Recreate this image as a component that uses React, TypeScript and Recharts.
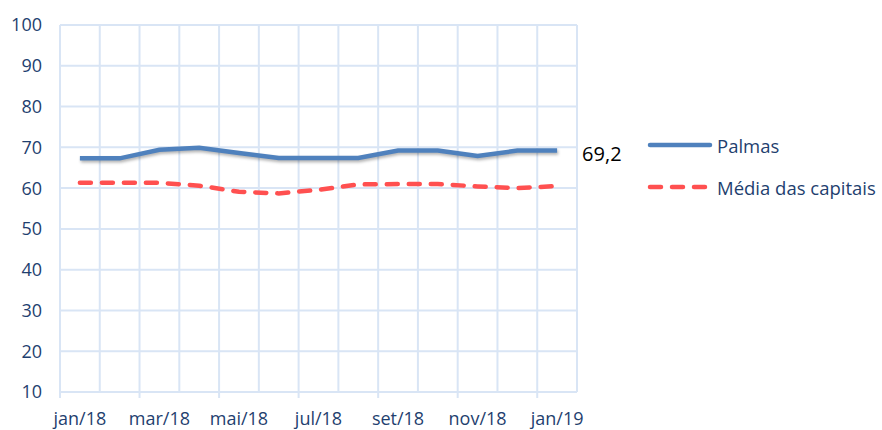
import React from 'react';
import { LineChart, Line, XAxis, YAxis, CartesianGrid, Legend } from 'recharts';

const months = ['jan/18', 'fev/18', 'mar/18', 'abr/18', 'mai/18', 'jun/18', 'jul/18', 'ago/18', 'set/18', 'out/18', 'nov/18', 'dez/18', 'jan/19'];
const palmas = [67.3, 67.3, 69.4, 69.9, 68.6, 67.4, 67.4, 67.4, 69.2, 69.2, 67.9, 69.2, 69.2];
const media = [61.3, 61.3, 61.3, 60.6, 59.1, 58.7, 59.6, 60.9, 61.0, 61.0, 60.4, 60.0, 60.5];
const yTicks = [10, 20, 30, 40, 50, 60, 70, 80, 90, 100];

const data = months.map((m, i) => ({ idx: i, month: m, palmas: palmas[i], media: media[i] }));

const gridTicks = months.map((_, i) => i - 0.5).concat(months.length - 0.5);
const axisTicks: number[] = [];
months.forEach((_, i) => {
  if (i % 2 === 0) {
    axisTicks.push(i - 0.5);
    axisTicks.push(i);
  }
});

const TEXT = '#1F3F6F';
const GRID = '#D9E5F5';
const FONT = '"Open Sans", sans-serif';

const series = [
  { key: 'palmas', name: 'Palmas', color: '#4F81BD', dash: undefined as string | undefined },
  { key: 'media', name: 'Média das capitais', color: '#FF5050', dash: '11 11' },
];

const XTick = (props: any) => {
  const { x, y, payload } = props;
  const v = payload.value;
  if (Number.isInteger(v)) {
    return (
      <text x={x} y={y + 33} textAnchor="middle" fill={TEXT} fontSize={18} fontFamily={FONT}>
        {months[v]}
      </text>
    );
  }
  return <line x1={x} y1={y} x2={x} y2={y + 6} stroke={GRID} strokeWidth={2} />;
};

const EndLabel = (props: any) => {
  const { x, y, index, value } = props;
  if (index !== months.length - 1) return null;
  return (
    <text x={x + 25} y={y + 3} dominantBaseline="central" fill="#000" fontSize={20} fontFamily={FONT}>
      {Number(value).toFixed(1).replace('.', ',')}
    </text>
  );
};

const LegendContent = () => (
  <div>
    {series.map((s) => (
      <div key={s.key} style={{ display: 'flex', alignItems: 'center', height: 42 }}>
        <svg width={68} height={10} style={{ display: 'block' }}>
          <line x1={4} y1={5} x2={64} y2={5} stroke={s.color} strokeWidth={4.5} strokeDasharray={s.dash} strokeLinecap="round" />
        </svg>
        <span style={{ marginLeft: 3, fontSize: 18.5, color: TEXT, fontFamily: FONT, whiteSpace: 'nowrap' }}>{s.name}</span>
      </div>
    ))}
  </div>
);

export default function App() {
  return (
    <div style={{ position: 'absolute', left: 0, top: 0, background: '#fff' }}>
      <LineChart width={882} height={430} data={data} margin={{ top: 25, right: 305, bottom: 0, left: 0 }}>
        <CartesianGrid xAxisId="grid" stroke={GRID} strokeWidth={2} horizontal vertical />
        <XAxis
          xAxisId="grid"
          dataKey="idx"
          type="number"
          domain={[-0.5, months.length - 0.5]}
          ticks={gridTicks}
          hide
        />
        <XAxis
          dataKey="idx"
          type="number"
          domain={[-0.5, months.length - 0.5]}
          ticks={axisTicks}
          interval={0}
          height={38}
          tickSize={0}
          tickMargin={0}
          tickLine={false}
          axisLine={{ stroke: GRID, strokeWidth: 2 }}
          tick={<XTick />}
        />
        <YAxis
          domain={[10, 100]}
          ticks={yTicks}
          width={60}
          axisLine={false}
          tickLine={false}
          tickSize={0}
          tickMargin={18}
          tick={{ fill: TEXT, fontSize: 18, fontFamily: FONT }}
        />
        <Legend
          layout="vertical"
          align="center"
          verticalAlign="middle"
          wrapperStyle={{ left: 646, top: 124, width: 236 }}
          content={<LegendContent />}
        />
        <Line
          dataKey="palmas"
          name="Palmas"
          stroke="#4F81BD"
          strokeWidth={4.5}
          dot={false}
          activeDot={false}
          type="linear"
          isAnimationActive={false}
          label={<EndLabel />}
          style={{ filter: 'drop-shadow(1px 2px 1.5px rgba(0,0,0,0.3))' }}
        />
        <Line
          dataKey="media"
          name="Média das capitais"
          stroke="#FF5050"
          strokeWidth={4.5}
          strokeDasharray="11 11"
          strokeLinecap="round"
          dot={false}
          activeDot={false}
          type="linear"
          isAnimationActive={false}
        />
      </LineChart>
    </div>
  );
}
